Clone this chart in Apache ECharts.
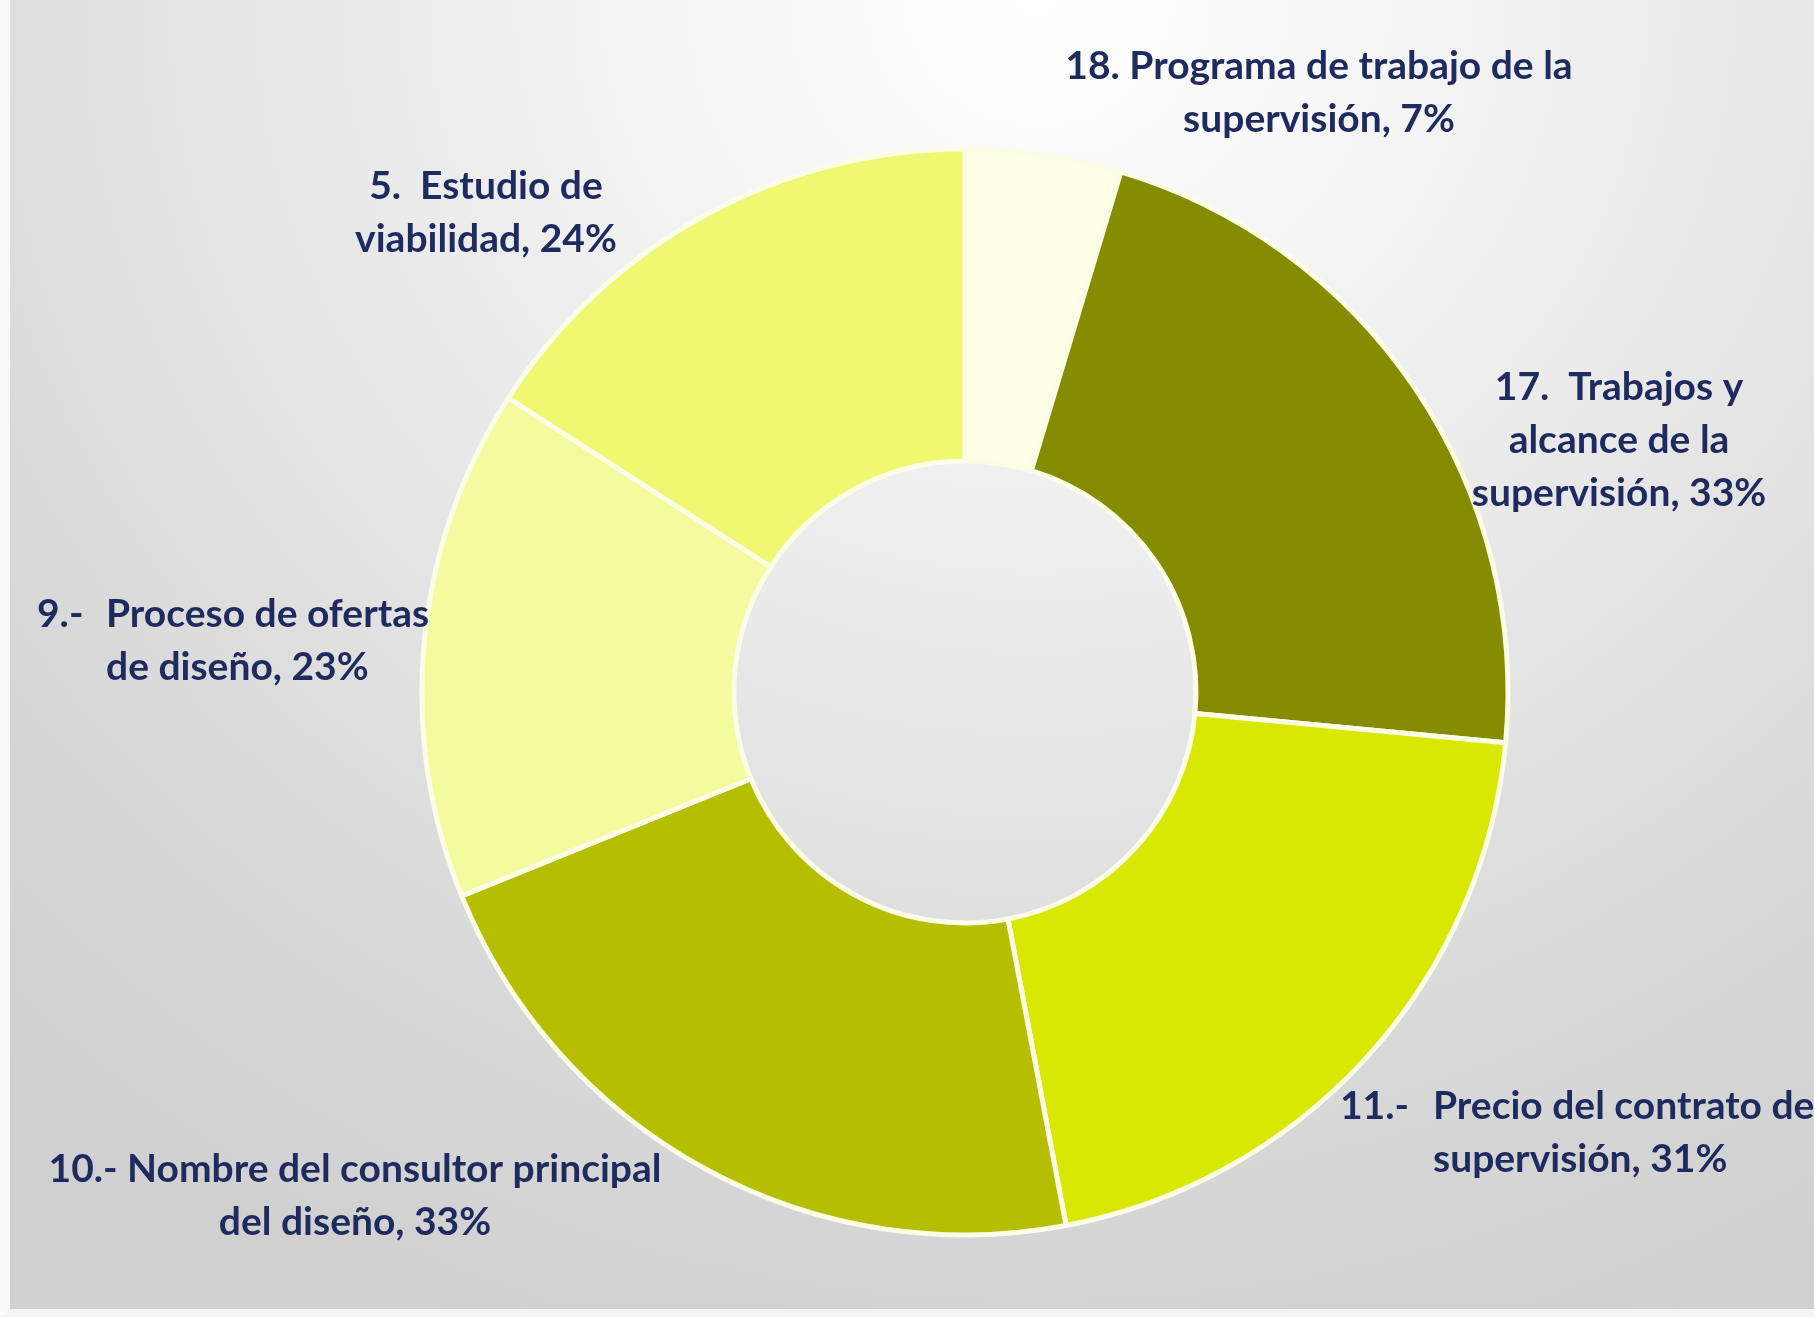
<!DOCTYPE html>
<html>
<head>
<meta charset="utf-8">
<script src="https://cdn.jsdelivr.net/npm/echarts@6/dist/echarts.min.js"></script>
<style>
  html, body { margin: 0; padding: 0; }
  #chart {
    width: 1814px; height: 1317px;
    background: radial-gradient(ellipse 85% 110% at 57% 0%, #ffffff 0%, #f7f7f7 20%, #e6e6e6 52%, #d8d8d8 78%, #d0d0d0 100%);
    box-sizing: border-box;
    border-left: 10px solid #fafafa;
    border-bottom: 8px solid #f4f4f4;
  }
</style>
</head>
<body>
<div id="chart"></div>
<script>
// ---- data ----
const numbers = ['18.', '17.', '11.-', '10.-', '9.-', '5.'];
const names = [
  'Programa de trabajo de la supervisión',
  'Trabajos y alcance de la supervisión',
  'Precio del contrato de supervisión',
  'Nombre del consultor principal del diseño',
  'Proceso de ofertas de diseño',
  'Estudio de viabilidad'
];
const values = [7, 33, 31, 33, 23, 24];

// ---- styling / layout ----
const colors = ['#FCFEE6', '#868C00', '#D9E800', '#B5BF00', '#F4FB9E', '#F0F770'];
const numSep = [' ', '  ', '', ' ', '', '  '];
const wordsPerLine = [[5], [2, 3], [4], [4], [3], [2]];
const hanging = [false, false, true, false, true, false];
const hangWidth = [0, 0, 93, 0, 69, 0];
const labelPos = [[1309, 93], [1609, 440], [1330, 1133], [345, 1196], [27, 641], [476, 213]];
const FONT = { color: '#1E2B5E', fontFamily: 'Lato', fontWeight: 'bold', fontSize: 39, lineHeight: 53 };

function lines(i) {
  const words = (names[i] + ', ' + values[i] + '%').split(' ');
  const out = [];
  let k = 0;
  wordsPerLine[i].forEach(n => { out.push(words.slice(k, k + n).join(' ')); k += n; });
  out.push(words.slice(k).join(' '));
  return out;
}

const chart = echarts.init(document.getElementById('chart'), null, { renderer: 'canvas' });
chart.setOption({
  backgroundColor: 'transparent',
  series: [{
    type: 'pie',
    center: [955, 692],
    radius: [231, 543],
    startAngle: 90,
    clockwise: true,
    avoidLabelOverlap: false,
    animation: false,
    silent: true,
    data: names.map((n, i) => ({
      name: n, value: values[i],
      itemStyle: { color: colors[i] },
      label: hanging[i] ? { rich: { n: Object.assign({ width: hangWidth[i] }, FONT), t: FONT } } : {}
    })),
    itemStyle: { borderColor: '#FBFDE6', borderWidth: 5 },
    label: Object.assign({
      show: true,
      position: 'outside',
      formatter: p => {
        const i = p.dataIndex;
        const ls = lines(i);
        if (hanging[i]) {
          return ls.map((l, j) => '{n|' + (j === 0 ? numbers[i] : '') + '}{t|' + l + '}').join('\n');
        }
        ls[0] = numbers[i] + numSep[i] + ls[0];
        return ls.join('\n');
      },
      rich: { n: FONT, t: FONT }
    }, FONT),
    labelLine: { show: false },
    labelLayout: p => {
      const i = p.dataIndex;
      return {
        x: labelPos[i][0], y: labelPos[i][1],
        align: hanging[i] ? 'left' : 'center',
        verticalAlign: 'middle'
      };
    }
  }]
});
</script>
</body>
</html>
